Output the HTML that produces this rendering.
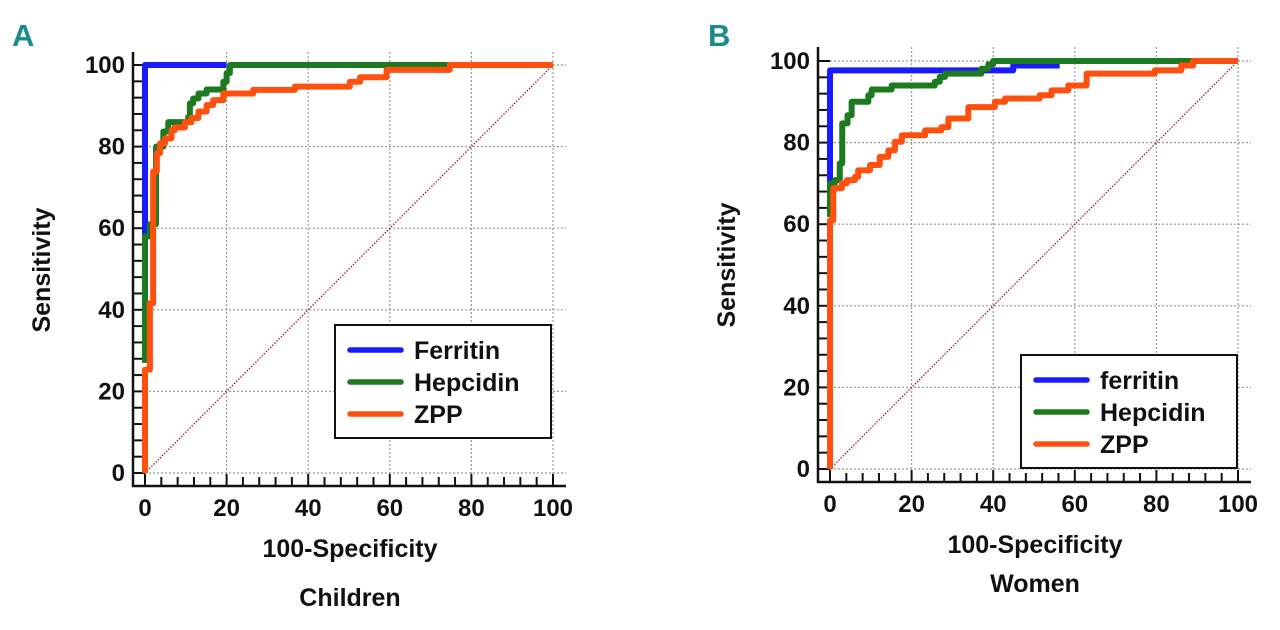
<!DOCTYPE html>
<html><head><meta charset="utf-8"><style>
body{margin:0;background:#fff;width:1280px;height:625px;overflow:hidden}
text{font-family:"Liberation Sans Narrow","Liberation Sans",sans-serif;font-weight:bold}
</style></head><body>
<svg id="svg" width="1280" height="625" viewBox="0 0 1280 625"></svg>
<script>
const ticks=[0,20,40,60,80,100];
const aFerX=[0,0,20], aFerY=[58,100,100];
const aHepX=[0,0,1.2,2.7,4.5,5.7,10.6,11.0,11.8,13.1,15.1,19.2,20.0,20.8,75], aHepY=[27,58,61,80,83.7,86,87.3,90.6,91.8,93,94,95.9,98,100,100];
const aZppX=[0,0,1.2,2.0,2.9,3.7,4.9,6.5,7.3,9.8,11.4,13.1,15.1,16.7,19.2,26.5,36.7,50.2,52.7,59.2,74.7,100], aZppY=[0,25.3,41.6,73.9,78.4,80.8,82,84,84.7,86,87,88.6,90.2,91.4,93,93.9,94.7,95.9,97,98.8,100,100];
const bFerX=[0,0,44.9,56.3], bFerY=[69.2,97.7,98.9,98.9];
const bHepX=[0,0,1.2,2.4,3.0,4.3,5.3,9.4,10.2,15.1,25.7,26.9,28.2,37.1,38.8,40,89], bHepY=[61.8,70,70.8,74.9,84.7,86.7,90,91.6,93,94,94.9,96.1,96.9,98.1,99.2,100,100];
const bZppX=[0,0,0.8,2.9,4.1,6.1,6.9,9.8,12.2,14.3,15.9,17.6,23.3,27.3,29,33.9,40.4,42.9,51.4,54.3,58.4,62.9,79.6,86.1,89,100], bZppY=[0,61,68.8,70,70.8,71.6,73.2,74.5,76.5,78.1,80.2,81.8,83,83.8,85.9,88.7,90,90.8,91.6,92.8,94,96.9,97.7,98.9,100,100];

const NS="http://www.w3.org/2000/svg";
const svg=document.getElementById('svg');
function mk(tag,at,parent){const e=document.createElementNS(NS,tag);for(const k in at)e.setAttribute(k,at[k]);(parent||svg).appendChild(e);return e;}
function panel(cfg){
  const g=mk('g',{});
  
  
  const sx=v=>cfg.x0+(cfg.x1-cfg.x0)*v/100, sy=v=>cfg.y0+(cfg.y1-cfg.y0)*v/100;
  ticks.forEach(t=>{
    if(t>0){const l=mk('line',{x1:sx(t),x2:sx(t),y1:cfg.top,y2:cfg.axY,stroke:'#999','stroke-dasharray':'2,2','stroke-width':1.2},g);
      }
    {const l=mk('line',{x1:cfg.axX,x2:cfg.right,y1:sy(t),y2:sy(t),stroke:'#999','stroke-dasharray':'2,2','stroke-width':1.2},g);
      }
  });
  const d=mk('line',{x1:sx(0),y1:sy(0),x2:sx(100),y2:sy(100),stroke:'#8b1a1a','stroke-dasharray':'1.5,1.5','stroke-width':1.2},g);
  
  const ax=mk('path',{d:`M${cfg.axX},${cfg.top}V${cfg.axY}H${cfg.right}`,fill:'none',stroke:'#111','stroke-width':2.5},g);
  
  for(let t=0;t<=100;t+=4){
    const maj=t%20===0;
    const a=mk('line',{x1:cfg.axX,x2:cfg.axX+(maj?12:9),y1:sy(t),y2:sy(t),stroke:'#111','stroke-width':2},g);
    
    const b=mk('line',{x1:sx(t),x2:sx(t),y1:cfg.axY,y2:cfg.axY-(maj?12:9),stroke:'#111','stroke-width':2},g);
    
  }
  ticks.forEach(t=>{
    const a=mk('text',{x:cfg.axX-8,y:sy(t)+8,'text-anchor':'end','font-size':24,fill:'#111'},g);a.textContent=t;
    
    const b=mk('text',{x:sx(t),y:cfg.axY+30,'text-anchor':'middle','font-size':24,fill:'#111'},g);b.textContent=t;
    
  });
  cfg.series.forEach(s=>{
    let p=`M${sx(s.x[0])},${sy(s.y[0])}`;
    for(let i=1;i<s.x.length;i++){p+=`H${sx(s.x[i])}V${sy(s.y[i])}`;}
    const e=mk('path',{d:p,fill:'none',stroke:s.c,'stroke-width':6,'stroke-linejoin':'round'},g);
    
  });
  const L=cfg.leg;
  const lb=mk('rect',{x:L.x,y:L.y,width:216,height:113,fill:'#fff',stroke:'#111','stroke-width':2},g);
  
  cfg.series.forEach((s,i)=>{
    const yy=L.y+25+i*32;
    const ln=mk('line',{x1:L.x+15,x2:L.x+66,y1:yy,y2:yy,stroke:s.c,'stroke-width':5.5,'stroke-linecap':'round'},g);
    
    const tx=mk('text',{x:L.x+79,y:yy+9,'font-size':25,fill:'#111',style:'font-family:"Liberation Sans",sans-serif'},g);tx.textContent=s.label;
    
  });
  const yl=mk('text',{x:0,y:0,transform:`translate(${cfg.ylx},${cfg.yly}) rotate(-90)`,'text-anchor':'middle','font-size':25,fill:'#111'},g);yl.textContent='Sensitivity';
  
  const xl=mk('text',{x:cfg.xlx,y:cfg.xly,'text-anchor':'middle','font-size':25,fill:'#111'},g);xl.textContent='100-Specificity';
  
  const sub=mk('text',{x:cfg.xlx,y:cfg.suby,'text-anchor':'middle','font-size':25,fill:'#111'},g);sub.textContent=cfg.sub;
  
  const pl=mk('text',{x:cfg.plx,y:46,'font-size':31,fill:'#1a8a8a'},g);pl.textContent=cfg.pl;
  
}
panel({name:'panel-a-children',x0:145,x1:553,y0:473,y1:65,axX:133,axY:486,top:52,right:566,
  series:[{x:aZppX,y:aZppY,c:'#ff5010',n:'zpp-curve',label:'ZPP'},{x:aHepX,y:aHepY,c:'#1e7a1e',n:'hepcidin-curve',label:'Hepcidin'},{x:aFerX,y:aFerY,c:'#1a1aff',n:'ferritin-curve',label:'Ferritin'}].reverse(),
  leg:{x:335,y:325},ylx:50,yly:270,xlx:350,xly:557,suby:606,sub:'Children',pl:'A',plx:12});
panel({name:'panel-b-women',x0:830,x1:1238,y0:469,y1:61,axX:818,axY:482,top:47,right:1251,
  series:[{x:bZppX,y:bZppY,c:'#ff5010',n:'zpp-curve',label:'ZPP'},{x:bHepX,y:bHepY,c:'#1e7a1e',n:'hepcidin-curve',label:'Hepcidin'},{x:bFerX,y:bFerY,c:'#1a1aff',n:'ferritin-curve',label:'ferritin'}].reverse(),
  leg:{x:1021,y:355},ylx:735,yly:265,xlx:1035,xly:553,suby:592,sub:'Women',pl:'B',plx:708});
</script>
</body></html>
